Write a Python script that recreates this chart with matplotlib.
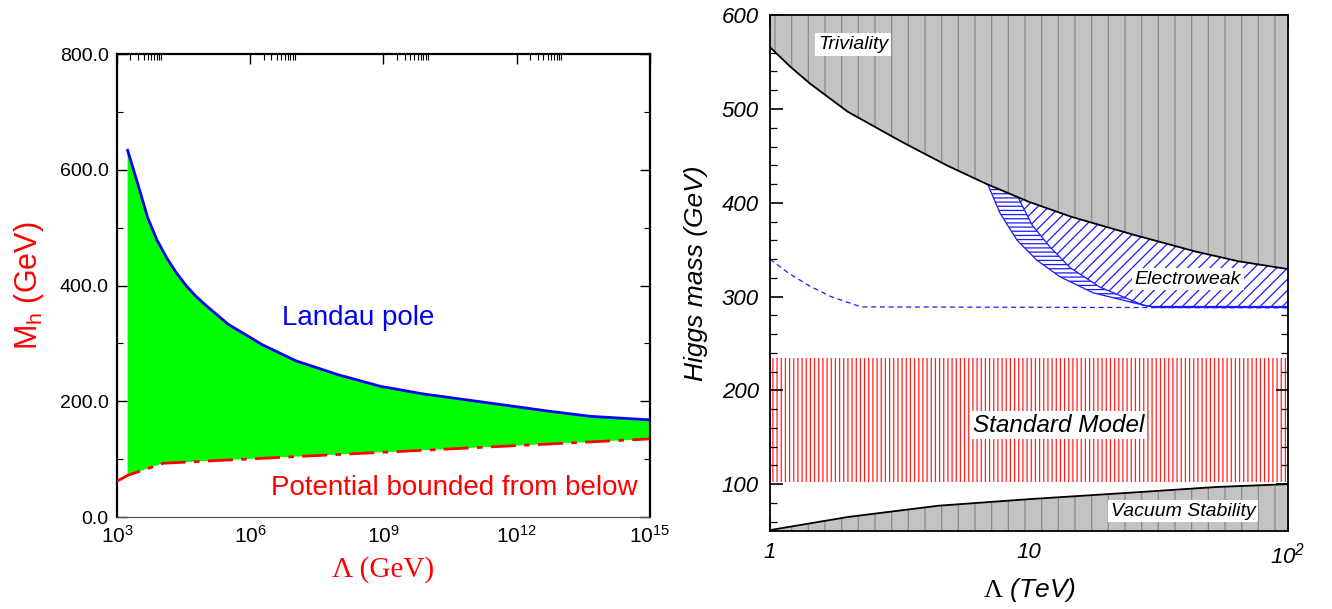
import matplotlib
matplotlib.use("Agg")
import matplotlib.pyplot as plt
import numpy as np
from matplotlib.ticker import FixedLocator, NullFormatter, MultipleLocator, LogLocator

plt.rcParams["font.family"] = "Liberation Sans"
plt.rcParams["mathtext.fontset"] = "custom"
plt.rcParams["mathtext.rm"] = "Liberation Serif"
plt.rcParams["mathtext.sf"] = "Liberation Sans"
plt.rcParams["mathtext.it"] = "Liberation Sans:italic"
plt.rcParams["mathtext.bf"] = "Liberation Sans:italic"  # used for the italic 10^2 label
plt.rcParams["hatch.linewidth"] = 0.9

# ---- left panel: Landau pole / potential bounded from below (log10 of Lambda in GeV)
landau_logL = [3.24, 3.43, 3.69, 3.90, 4.12, 4.33, 4.57, 4.76, 5.0, 5.51, 6.27, 7.03, 7.98,
               8.93, 9.88, 10.83, 11.78, 12.72, 13.67, 15.0]
landau_mh = [634, 586, 518, 479, 448, 423, 399, 383, 366, 333, 298, 270, 246,
             226, 213, 203, 193, 183, 174, 168]
bound_logL = [3.0, 3.24, 4.04, 15.0]
bound_mh = [62, 72, 93, 135]
left_xticks = [3, 6, 9, 12, 15]
left_yticks = [0, 200, 400, 600, 800]

# ---- right panel (Lambda in TeV)
triv_L = [1, 1.2, 1.43, 2.0, 3.18, 4.81, 6.87, 10, 14.6, 24.9, 44, 64.5, 100]
triv_mh = [566, 545, 527, 497, 466, 440, 420, 401, 385, 366.5, 348, 337.6, 329.3]
vac_L = [1, 2.0, 4.47, 10, 24.9, 53, 100]
vac_mh = [51, 65, 77, 84, 91, 97, 100]
sm_L = [1, 100]
sm_low, sm_high = 102, 235
ew_dash_L = [1, 1.18, 1.43, 1.72, 2.09, 2.25, 100]
ew_dash_mh = [340, 325, 311, 300, 292, 289, 288]
ew_outer_L = [6.95, 7.73, 9.0, 10.7, 13.2, 17.7, 27.5, 30]
ew_outer_mh = [419, 389, 360, 339, 321, 304, 291, 289]
ew_inner_L = [9.07, 10.3, 12.05, 14.4, 18.8, 27.5, 30]
ew_inner_mh = [406, 376, 353, 331, 310, 291, 289]
ew_floor = 289
right_yticks = [100, 200, 300, 400, 500, 600]

fig = plt.figure(figsize=(13.32, 6.09), dpi=100)

# ================= left =================
ax = fig.add_axes([0.0878, 0.151, 0.400, 0.760])
lx = 10 ** np.array(landau_logL)
bx = 10 ** np.array(bound_logL)

poly_x = list(lx) + [bx[i] for i in range(len(bx) - 1, 0, -1)]
poly_y = list(landau_mh) + [bound_mh[i] for i in range(len(bound_mh) - 1, 0, -1)]
ax.fill(poly_x, poly_y, color="#00ff00", lw=0, zorder=1)
ax.plot(lx, landau_mh, color="#0000ff", lw=2, zorder=3)
ax.plot(bx, bound_mh, color="#ff0000", lw=2, dashes=(9, 3, 2, 3), zorder=3)

ax.set_xscale("log")
ax.set_xlim(1e3, 1e15)
ax.set_ylim(0, 800)
ax.xaxis.set_major_locator(FixedLocator([10.0 ** e for e in left_xticks]))
ax.xaxis.set_minor_locator(FixedLocator([k * 10.0 ** e for e in left_xticks[:-1] for k in range(2, 11)]))
ax.xaxis.set_minor_formatter(NullFormatter())
ax.set_xticklabels([r"$\mathsf{10^{%d}}$" % e for e in left_xticks], fontsize=15)
ax.set_yticks(left_yticks)
ax.set_yticklabels(["%.1f" % v for v in left_yticks], fontsize=14)
ax.yaxis.set_minor_locator(MultipleLocator(100))
ax.tick_params(axis="x", which="both", direction="in", top=True, bottom=False, pad=6)
ax.tick_params(axis="y", which="both", direction="in", left=True, right=True, pad=6)
ax.tick_params(which="major", length=7, width=1)
ax.tick_params(which="minor", length=4, width=0.8)
for s in ["top", "left", "right"]:
    ax.spines[s].set_linewidth(1.6)
ax.spines["bottom"].set_linewidth(0.8)
ax.spines["bottom"].set_color("#3d5a3d")

ax.text(10 ** 8.43, 344, "Landau pole", color="#0000ff", fontsize=20, ha="center", va="center")
ax.text(10 ** 14.73, 50, "Potential bounded from below", color="#ff0000", fontsize=20,
        ha="right", va="center")
ax.set_ylabel(r"M$_{\mathsf{h}}$ (GeV)", color="#ff0000", fontsize=22, labelpad=10)
ax.set_xlabel("Λ (GeV)", color="#ff0000", fontsize=21, family="Liberation Serif", labelpad=6)

# ================= right =================
ax2 = fig.add_axes([0.578, 0.128, 0.389, 0.847])
ax2.set_xscale("log")
ax2.set_xlim(1, 100)
ax2.set_ylim(50, 600)

# standard model band
ax2.fill_between(sm_L, sm_low, sm_high, facecolor="none", edgecolor="#ff2020",
                 hatch="||||", lw=0, zorder=1)

# electroweak regions
hx = ew_outer_L + ew_inner_L[::-1]
hy = ew_outer_mh + ew_inner_mh[::-1]
ax2.fill(hx, hy, facecolor="white", edgecolor="#1a1aff", hatch="----", lw=0, zorder=2)
ax2.plot(ew_outer_L, ew_outer_mh, color="#1a1aff", lw=0.9, zorder=3)
top_pts = [(L, m) for L, m in zip(triv_L, triv_mh) if L > ew_inner_L[0]]
dx = ew_inner_L + [100] + [p[0] for p in top_pts[::-1]]
dy = ew_inner_mh + [ew_floor] + [p[1] for p in top_pts[::-1]]
ax2.fill(dx, dy, facecolor="white", edgecolor="#1a1aff", hatch="///", lw=0, zorder=2)
ax2.plot(ew_inner_L, ew_inner_mh, color="#1a1aff", lw=0.9, zorder=3)
ax2.plot([ew_inner_L[-1], 100], [ew_floor, ew_floor], color="#1a1aff", lw=1.6, zorder=3)
ax2.plot(ew_dash_L, ew_dash_mh, color="#1a1aff", lw=0.9, dashes=(4, 3), zorder=3)

# excluded regions
ax2.fill_between(triv_L, triv_mh, 600, facecolor="#c3c3c3", edgecolor="#8a8a8a",
                 hatch="|", lw=0, zorder=4)
ax2.fill_between(vac_L, 50, vac_mh, facecolor="#c3c3c3", edgecolor="#8a8a8a",
                 hatch="|", lw=0, zorder=4)
ax2.plot(triv_L, triv_mh, color="black", lw=1.3, zorder=5)
ax2.plot(vac_L, vac_mh, color="black", lw=1.3, zorder=5)

box = dict(facecolor="white", edgecolor="none", pad=2)
ax2.text(2.09, 569, "Triviality", fontsize=14, style="italic", ha="center", va="center", bbox=box, zorder=6)
ax2.text(41, 318.6, "Electroweak", fontsize=14, style="italic", ha="center", va="center", bbox=box, zorder=6)
ax2.text(39.3, 71.3, "Vacuum Stability", fontsize=14, style="italic", ha="center", va="center", bbox=box, zorder=6)
ax2.text(13, 163, "Standard Model", fontsize=17.5, style="italic", ha="center", va="center", bbox=box, zorder=6)

ax2.set_xticks([1, 10, 100])
ax2.set_xticklabels(["1", "10", r"$\mathbf{10^{2}}$"], fontsize=16, style="italic")
ax2.xaxis.set_minor_locator(LogLocator(base=10, subs=np.arange(2, 10)))
ax2.xaxis.set_minor_formatter(NullFormatter())
ax2.set_yticks(right_yticks)
ax2.set_yticklabels([str(v) for v in right_yticks], fontsize=16, style="italic")
ax2.yaxis.set_minor_locator(MultipleLocator(20))
ax2.tick_params(which="both", direction="in", top=True, right=True, pad=8)
ax2.tick_params(which="major", length=9, width=1.2)
ax2.tick_params(which="minor", length=5, width=0.9)
for s in ax2.spines.values():
    s.set_linewidth(1.3)
    s.set_zorder(7)
ax2.set_ylabel("Higgs mass (GeV)", fontsize=19, style="italic", labelpad=10)
ax2.set_xlabel(r"$\Lambda$ (TeV)", fontsize=19, style="italic", labelpad=6)

fig.savefig("out.png", dpi=100)
